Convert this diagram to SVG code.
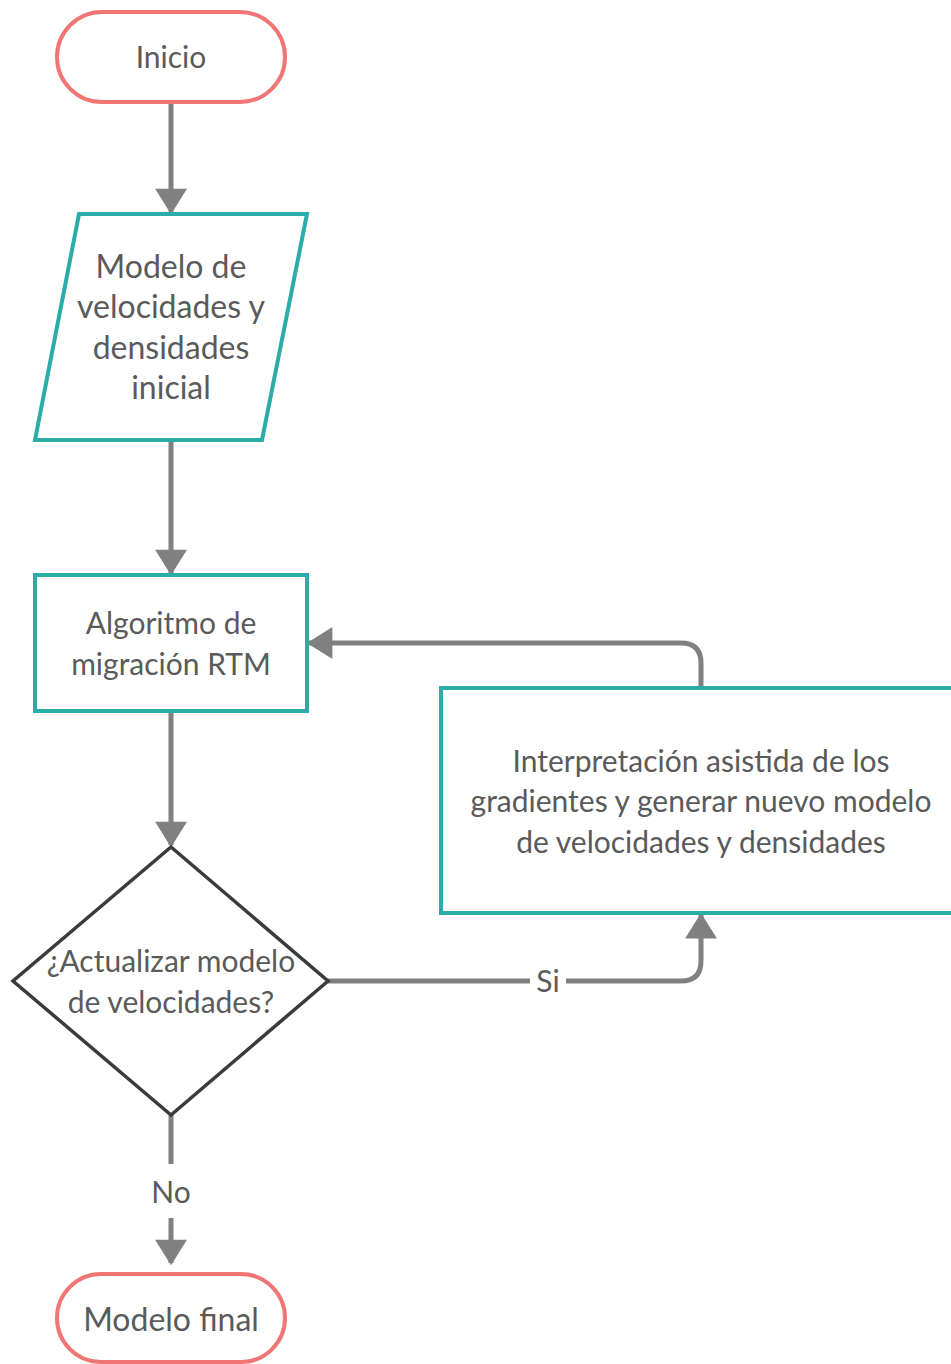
<svg xmlns="http://www.w3.org/2000/svg" width="951" height="1364" viewBox="0 0 951 1364">
  <style>
    .term { fill: #ffffff; stroke: #f07575; stroke-width: 4; }
    .proc { fill: #ffffff; stroke: #2aaca8; stroke-width: 4; }
    .dec { fill: #ffffff; stroke: #3b3b3b; stroke-width: 3.5; }
    .conn { fill: none; stroke: #808080; stroke-width: 5; }
    .lbl { font-family: Lato, "Open Sans", "Liberation Sans", sans-serif; font-size: 30px; fill: #5a5a5a; text-anchor: middle; }
    .big { font-size: 32px; }
  </style>
  <defs>
    <marker id="arrow" markerUnits="userSpaceOnUse" markerWidth="34" markerHeight="34" viewBox="0 0 24 32" refX="22" refY="16" orient="auto">
      <path d="M0,1 L24,16 L0,31 Z" fill="#808080"/>
    </marker>
  </defs>
  <rect width="951" height="1364" fill="#ffffff"/>

  <!-- connectors -->
  <g id="connectors">
    <path class="conn" d="M171,102 L171,212" marker-end="url(#arrow)"/>
    <path class="conn" d="M171,440 L171,573" marker-end="url(#arrow)"/>
    <path class="conn" d="M171,711 L171,845" marker-end="url(#arrow)"/>
    <path class="conn" d="M328,981 L530,981 M566,981 L681,981 Q701,981 701,961 L701,915" marker-end="url(#arrow)"/>
    <path class="conn" d="M701,688 L701,663 Q701,643 681,643 L309,643" marker-end="url(#arrow)"/>
    <path class="conn" d="M171,1115 L171,1164 M171,1218 L171,1263" marker-end="url(#arrow)"/>
    <text class="lbl" x="548" y="992">Si</text>
    <text class="lbl" x="171" y="1203">No</text>
  </g>

  <g id="inicio">
    <rect class="term" x="57" y="12" width="228" height="90" rx="45" ry="45"/>
    <text class="lbl" x="171" y="68">Inicio</text>
  </g>

  <g id="modelo-inicial">
    <polygon class="proc" points="79,214 307,214 262,440 35,440"/>
    <text class="lbl big" x="171" y="278">Modelo de</text>
    <text class="lbl big" x="171" y="318">velocidades y</text>
    <text class="lbl big" x="171" y="359">densidades</text>
    <text class="lbl big" x="171" y="399">inicial</text>
  </g>

  <g id="algoritmo-rtm">
    <rect class="proc" x="35" y="575" width="272" height="136"/>
    <text class="lbl" x="171" y="634">Algoritmo de</text>
    <text class="lbl" x="171" y="675">migración RTM</text>
  </g>

  <g id="interpretacion">
    <rect class="proc" x="441" y="688" width="520" height="225"/>
    <text class="lbl" x="701" y="772">Interpretación asistida de los</text>
    <text class="lbl" x="701" y="812">gradientes y generar nuevo modelo</text>
    <text class="lbl" x="701" y="853">de velocidades y densidades</text>
  </g>

  <g id="decision">
    <polygon class="dec" points="171,847 328,981 171,1115 13,981"/>
    <text class="lbl" x="171" y="972">¿Actualizar modelo</text>
    <text class="lbl" x="171" y="1013">de velocidades?</text>
  </g>

  <g id="modelo-final">
    <rect class="term" x="57" y="1274" width="228" height="88" rx="44" ry="44"/>
    <text class="lbl big" x="171" y="1331">Modelo final</text>
  </g>
</svg>
